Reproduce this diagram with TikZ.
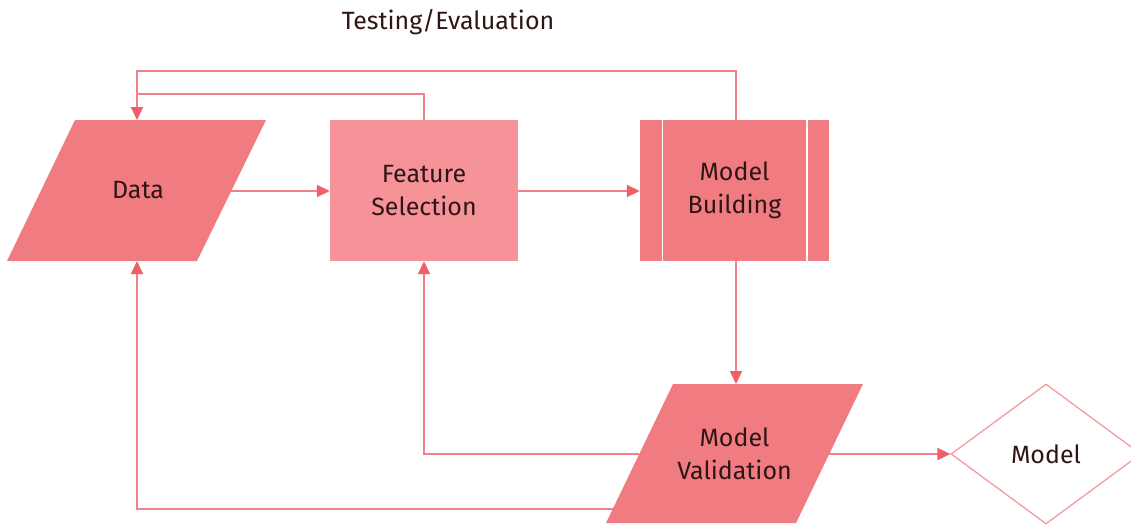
\documentclass[tikz,border=0pt]{standalone}
\usepackage{fontspec}
\setmainfont{Fira Sans}
\usetikzlibrary{shapes.geometric,arrows.meta,calc}
\definecolor{fillA}{HTML}{F07C82}
\definecolor{fillB}{HTML}{F59399}
\definecolor{lineC}{HTML}{F2808A}
\definecolor{headC}{HTML}{F05E69}
\definecolor{txtC}{HTML}{2E1616}
\definecolor{diaC}{HTML}{F59AA0}
\tikzset{
  lbl/.style={font=\fontsize{25}{33}\selectfont, text=txtC, align=center},
  parafill/.style={fill=fillA, draw=none},
  boxA/.style={lbl, rectangle, fill=fillB, draw=none, minimum width=188pt, minimum height=141pt, inner sep=0pt},
  boxB/.style={lbl, rectangle, fill=fillA, draw=none, minimum width=189pt, minimum height=141pt, inner sep=0pt},
  dia/.style={lbl, diamond, aspect=1.36, draw=diaC, line width=1.3pt, fill=white, minimum width=190pt, minimum height=140pt, inner sep=0pt},
  conn/.style={draw=lineC, line width=1.8pt, -{Triangle[length=13pt,width=12pt,color=headC]}},
  plain/.style={draw=lineC, line width=1.8pt},
}
\begin{document}
\begin{tikzpicture}[x=1pt,y=-1pt]
\clip (0,0) rectangle (1131,525);
\useasboundingbox (0,0) rectangle (1131,525);
\node[lbl] (title) at (448,22) {Testing/Evaluation};
% Data parallelogram
\path[parafill] (75,120) -- (266,120) -- (197,261) -- (7,261) -- cycle;
\node[lbl] (data) at (138,190.5) {Data};
\coordinate (dataE) at (231,191);
\coordinate (dataN) at (137,120);
\coordinate (dataS) at (137,261);
% Feature Selection
\node[boxA] (feat) at (424,190.5) {Feature\\Selection};
% Model Building
\node[boxB] (build) at (734.5,190.5) {Model\\Building};
\draw[white, line width=1.6pt] ($(build.north west)+(22.5,0)$) -- ($(build.south west)+(22.5,0)$);
\draw[white, line width=1.6pt] ($(build.north east)+(-22.5,0)$) -- ($(build.south east)+(-22.5,0)$);
% Model Validation parallelogram
\path[parafill] (673,384) -- (863,384) -- (796,523) -- (606,523) -- cycle;
\node[lbl] (valid) at (734.5,453.5) {Model\\Validation};
\coordinate (validN) at (736,384);
\coordinate (validE) at (829,454);
\coordinate (validW) at (639,454);
\coordinate (validWL) at (613,509);
% Model diamond
\node[dia] (model) at (1046,454) {Model};
% connectors
\draw[conn] (dataE) -- (feat.west |- dataE);
\draw[conn] (feat.east |- dataE) -- (build.west |- dataE);
\draw[conn] (validN |- build.south) -- (validN);
\draw[conn] (validE) -- (model.west);
\draw[conn] (validW) -| (feat.south);
\draw[conn] (validWL) -| (dataS);
\draw[conn] (validN |- build.north) -- ++(0,-49) -| (dataN);
\draw[plain] (feat.north) |- ($(dataN)+(0,-26)$);
\end{tikzpicture}
\end{document}
